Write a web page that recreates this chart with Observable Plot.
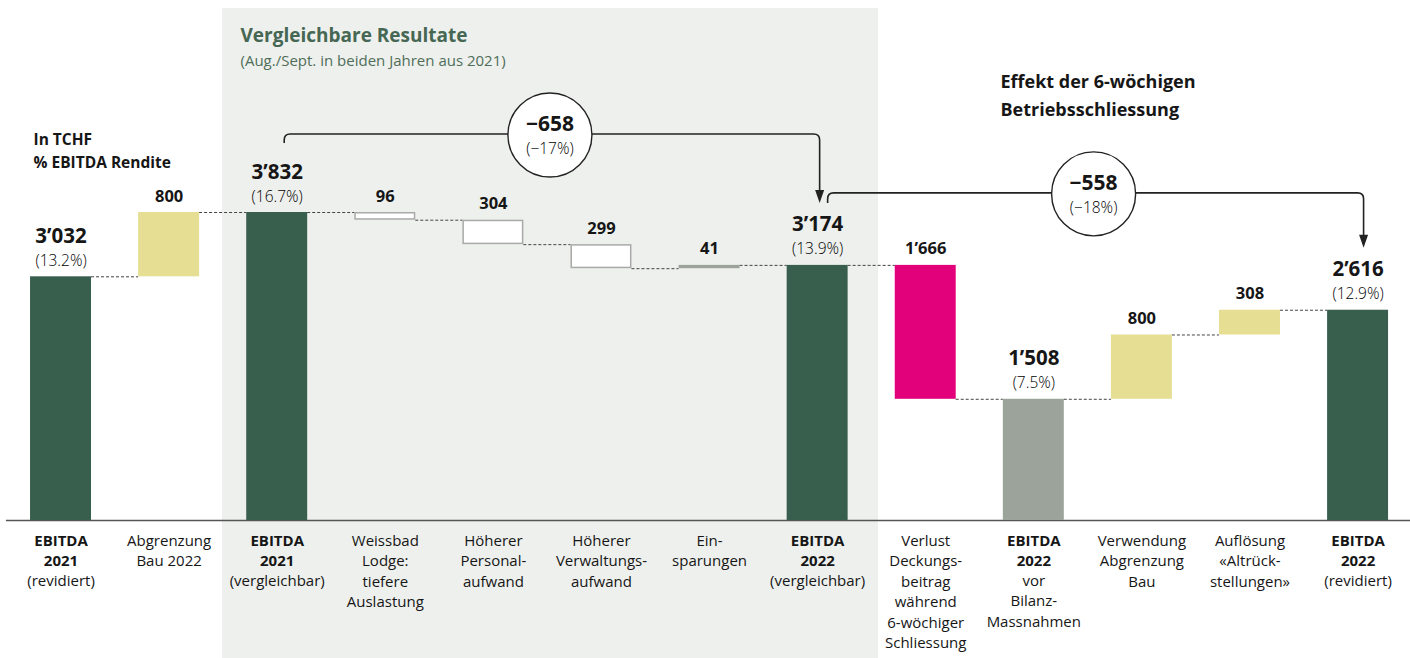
<!DOCTYPE html>
<html><head><meta charset="utf-8">
<script src="https://cdn.jsdelivr.net/npm/d3@7"></script>
<script src="https://cdn.jsdelivr.net/npm/@observablehq/plot@0.6"></script>
<style>body{margin:0;background:#fff} svg{display:block;font-family:"Open Sans",sans-serif}</style>
</head><body><div id="chart"></div>
<script>
// ---- data ----
const boldLabels = ["EBITDA\n2021", "", "EBITDA\n2021", "", "", "", "", "EBITDA\n2022", "", "EBITDA\n2022", "", "", "EBITDA\n2022"];
const plainLabels = ["(revidiert)", "Abgrenzung\nBau 2022", "(vergleichbar)", "Weissbad\nLodge:\ntiefere\nAuslastung", "Höherer\nPersonal-\naufwand", "Höherer\nVerwaltungs-\naufwand", "Ein-\nsparungen", "(vergleichbar)", "Verlust\nDeckungs-\nbeitrag\nwährend\n6-wöchiger\nSchliessung", "vor\nBilanz-\nMassnahmen", "Verwendung\nAbgrenzung\nBau", "Auflösung\n«Altrück-\nstellungen»", "(revidiert)"];
const values = [3032, 800, 3832, -96, -304, -299, 41, 3174, -1666, 1508, 800, 308, 2616];
const kinds = ["total", "build", "total", "cost", "cost", "cost", "saving", "total", "closure", "subtotal", "build", "build", "total"];
const margins = ["(13.2%)", "", "(16.7%)", "", "", "", "", "(13.9%)", "", "(7.5%)", "", "", "(12.9%)"];
const bridges = [{from: 2, to: 7}, {from: 7, to: 12}];
const panelTitle = "Vergleichbare Resultate";
const panelSubtitle = "(Aug./Sept. in beiden Jahren aus 2021)";
const unitLines = ["In TCHF", "% EBITDA Rendite"];
const effectLines = ["Effekt der 6-wöchigen", "Betriebsschliessung"];

// ---- derived table ----
const colors = {total: "#385e4d", subtotal: "#9ba39a", build: "#e6df93", cost: "#ffffff", saving: "#9ba39a", closure: "#e3007b"};
const fmt = v => d3.format(",")(v).replace(/,/g, "’");
let level = 0;
const rows = values.map((v, i) => {
  const k = kinds[i];
  let y1, y2;
  if (k === "total" || k === "subtotal") { y1 = 0; y2 = v; }
  else { y1 = level; y2 = level + v; }
  level = y2;
  return {i, v, k, lo: Math.min(y1, y2), hi: Math.max(y1, y2), end: y2,
    label: fmt(Math.abs(v)), pct: margins[i], bold: boldLabels[i], plain: plainLabels[i], fill: colors[k]};
});
const isTotal = d => d.k === "total" || d.k === "subtotal";
const hw = 0.282;
const ymax = d3.max(rows, d => d.hi);
const font = "Open Sans, sans-serif";
const ink = "#161616";

function bridgeMark(index, scales) {
  const x = scales.x, y = scales.y;
  const g = d3.create("svg:g").attr("font-family", font);
  const lifts = [78, 72], startOff = [7.5, 10.5], startDrop = [69, 62], endOff = [2.5, 6];
  bridges.forEach((b, k) => {
    const vf = values[b.from], vt = values[b.to];
    const delta = vt - vf;
    const pct = Math.round(delta / vf * 100);
    const sx = x(b.from) + startOff[k], sy = y(vf) - startDrop[k], ly = y(vf) - lifts[k];
    const ex = x(b.to) + endOff[k], ey = y(vt) - 62, r = 6, ah = 13;
    g.append("path")
      .attr("d", `M${sx},${sy}V${ly + r}Q${sx},${ly} ${sx + r},${ly}H${ex - r}Q${ex},${ly} ${ex},${ly + r}V${ey - ah + 1}`)
      .attr("fill", "none").attr("stroke", "#222").attr("stroke-width", 1.6);
    g.append("path").attr("d", `M${ex - 4.5},${ey - ah}L${ex + 4.5},${ey - ah}L${ex},${ey}Z`).attr("fill", "#222");
    const cx = (sx + ex) / 2 - 2;
    g.append("circle").attr("cx", cx).attr("cy", ly + 1).attr("r", 42)
      .attr("fill", "#fff").attr("stroke", "#222").attr("stroke-width", 1.4);
    g.append("text").attr("x", cx).attr("y", ly - 3).attr("text-anchor", "middle")
      .attr("font-size", 21).attr("font-weight", 700).attr("fill", ink).text("−" + fmt(Math.abs(delta)));
    g.append("text").attr("x", cx).attr("y", ly + 20).attr("text-anchor", "middle")
      .attr("font-size", 15.5).attr("font-weight", 300).attr("fill", "#000").text(`(−${Math.abs(pct)}%)`);
  });
  return g.node();
}

const chart = Plot.plot({
  width: 1410,
  height: 658,
  margin: 0,
  style: {fontFamily: font, background: "#fff"},
  x: {type: "linear", domain: [-0.56, 12.485], range: [0, 1410], axis: null},
  y: {domain: [0, ymax], range: [520, 212], axis: null},
  color: {type: "identity"},
  marks: [
    Plot.rect([{x1: 2 - 0.506, x2: 7 + 0.563}], {x1: "x1", x2: "x2", insetTop: 8, fill: "#eef0ed"}),
    Plot.ruleY([0], {x1: -0.505, x2: 12.6, stroke: "#555", strokeWidth: 1.5}),
    Plot.ruleY(rows.slice(0, -1), {y: "end", x1: d => d.i + hw, x2: d => d.i + 1 - hw, stroke: "#444", strokeWidth: 1, strokeDasharray: "3,2"}),
    Plot.rectY(rows.filter(d => d.k !== "cost"), {x1: d => d.i - hw, x2: d => d.i + hw, y1: "lo", y2: "hi", fill: "fill"}),
    Plot.rectY(rows.filter(d => d.k === "cost"), {x1: d => d.i - hw, x2: d => d.i + hw, y1: "lo", y2: "hi", fill: "#fff", stroke: "#a9a9a9", strokeWidth: 1.5, inset: 0.75}),
    // value labels
    Plot.text(rows.filter(isTotal), {x: "i", y: "hi", text: "label", dy: -34, lineAnchor: "bottom", fontSize: 20.5, fontWeight: 700, fill: ink}),
    Plot.text(rows.filter(isTotal), {x: "i", y: "hi", text: "pct", dy: -11, lineAnchor: "bottom", fontSize: 15.5, fontWeight: 300, fill: "#000"}),
    Plot.text(rows.filter(d => !isTotal(d)), {x: "i", y: "hi", text: "label", dy: -11, lineAnchor: "bottom", fontSize: 16.5, fontWeight: 700, fill: ink}),
    // category labels
    Plot.text(rows.filter(d => d.bold), {x: "i", y: 0, text: "bold", lineAnchor: "top", dy: 11, fontSize: 15, fontWeight: 700, lineHeight: 1.33, fill: ink}),
    Plot.text(rows.filter(d => d.bold), {x: "i", y: 0, text: "plain", lineAnchor: "top", dy: 11 + 40, fontSize: 15, lineHeight: 1.36, fill: ink}),
    Plot.text(rows.filter(d => !d.bold), {x: "i", y: 0, text: "plain", lineAnchor: "top", dy: 11, fontSize: 15, lineHeight: 1.36, fill: ink}),
    // titles
    Plot.text([panelTitle], {frameAnchor: "top-left", textAnchor: "start", lineAnchor: "bottom", dx: 240, dy: 41, fontSize: 19, fontWeight: 700, fill: "#456753"}),
    Plot.text([panelSubtitle], {frameAnchor: "top-left", textAnchor: "start", lineAnchor: "bottom", dx: 240, dy: 65, fontSize: 15, fontWeight: 400, fill: "#4f6e5a"}),
    Plot.text([unitLines[0]], {frameAnchor: "top-left", textAnchor: "start", lineAnchor: "bottom", dx: 33, dy: 144, fontSize: 15.5, fontWeight: 700, fill: ink}),
    Plot.text([unitLines[1]], {frameAnchor: "top-left", textAnchor: "start", lineAnchor: "bottom", dx: 33, dy: 167, fontSize: 15.5, fontWeight: 700, fill: ink}),
    Plot.text([effectLines[0]], {frameAnchor: "top-left", textAnchor: "start", lineAnchor: "bottom", dx: 1000, dy: 87, fontSize: 18, fontWeight: 700, fill: ink}),
    Plot.text([effectLines[1]], {frameAnchor: "top-left", textAnchor: "start", lineAnchor: "bottom", dx: 1000, dy: 115, fontSize: 18, fontWeight: 700, fill: ink}),
    bridgeMark
  ]
});
document.getElementById("chart").append(chart);
</script>
</body></html>
